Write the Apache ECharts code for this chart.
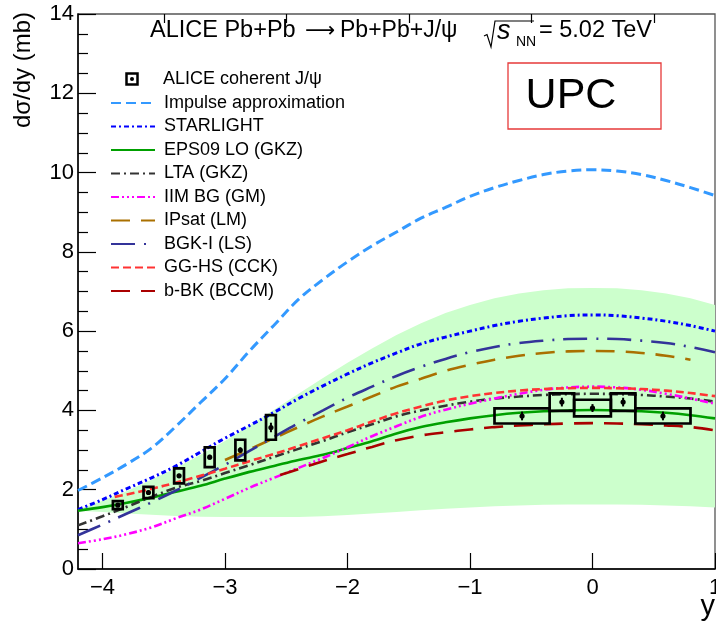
<!DOCTYPE html>
<html><head><meta charset="utf-8">
<script src="https://cdn.jsdelivr.net/npm/echarts@6/dist/echarts.min.js"></script>
<style>html,body{margin:0;padding:0;background:#fff}#c{width:716px;height:625px}</style>
</head><body><div id="c"></div>
<script>
// ---------- DATA ----------
const rapidity = [-4.2,-4.0,-3.8,-3.6,-3.4,-3.2,-3.0,-2.8,-2.6,-2.4,-2.2,-2.0,-1.8,-1.6,-1.4,-1.2,-1.0,-0.8,-0.6,-0.4,-0.2,0,0.2,0.4,0.6,0.8,1.0];
const impulseApprox = [1.98,2.3,2.65,3.05,3.6,4.2,4.8,5.5,6.15,6.8,7.3,7.75,8.15,8.5,8.85,9.12,9.4,9.62,9.8,9.95,10.04,10.07,10.04,9.95,9.8,9.62,9.42];
const starlight = [1.5,1.75,2.03,2.3,2.6,2.95,3.3,3.62,3.95,4.3,4.62,4.92,5.2,5.45,5.68,5.85,6.0,6.14,6.25,6.33,6.39,6.41,6.39,6.33,6.25,6.14,6.0];
const eps09 = [1.47,1.56,1.67,1.8,1.95,2.1,2.28,2.45,2.6,2.75,2.88,3.05,3.22,3.42,3.58,3.7,3.8,3.88,3.94,3.98,4.0,4.01,4.0,3.98,3.94,3.88,3.8];
const lta = [1.1,1.33,1.57,1.82,2.05,2.22,2.42,2.62,2.83,3.03,3.23,3.45,3.65,3.85,4.0,4.12,4.22,4.3,4.35,4.39,4.41,4.42,4.41,4.39,4.35,4.3,4.22];
const iimBG = [0.65,0.75,0.88,1.05,1.28,1.5,1.77,2.05,2.3,2.55,2.8,3.07,3.35,3.6,3.84,4.02,4.17,4.3,4.42,4.52,4.58,4.6,4.58,4.52,4.42,4.3,4.17];
const ipsat = [null,null,null,null,null,null,2.75,3.02,3.3,3.58,3.85,4.1,4.35,4.6,4.8,5.0,5.15,5.28,5.38,5.45,5.49,5.5,5.49,5.45,5.38,5.28,null];
const bgkI = [0.85,1.12,1.4,1.68,1.98,2.3,2.63,2.98,3.33,3.68,4.0,4.32,4.6,4.87,5.1,5.3,5.47,5.6,5.7,5.76,5.8,5.81,5.8,5.76,5.7,5.6,5.47];
const gghsX = [-3.9,-3.8,-3.6,-3.4,-3.2,-3.0,-2.8,-2.6,-2.4,-2.2,-2.0,-1.8,-1.6,-1.4,-1.2,-1.0,-0.8,-0.6,-0.4,-0.2,0,0.2,0.4,0.6,0.8,1.0];
const gghs = [1.82,1.88,2.02,2.18,2.35,2.53,2.72,2.9,3.1,3.3,3.5,3.72,3.93,4.1,4.25,4.36,4.44,4.5,4.54,4.56,4.57,4.56,4.54,4.5,4.44,4.36];
const bbkX = [-2.55,-2.4,-2.2,-2.0,-1.8,-1.6,-1.4,-1.2,-1.0,-0.8,-0.6,-0.4,-0.2,0,0.2,0.4,0.6,0.8,1.0];
const bbk = [2.37,2.52,2.72,2.9,3.08,3.25,3.37,3.45,3.52,3.58,3.62,3.65,3.67,3.68,3.67,3.65,3.62,3.58,3.5];
const bandUpper = [1.5,1.72,1.97,2.25,2.55,2.88,3.23,3.62,4.02,4.42,4.82,5.2,5.56,5.9,6.2,6.46,6.66,6.83,6.95,7.03,7.08,7.09,7.08,7.03,6.95,6.83,6.66];
const bandLower = [1.47,1.44,1.4,1.37,1.34,1.32,1.31,1.31,1.31,1.31,1.33,1.36,1.4,1.44,1.48,1.52,1.55,1.58,1.6,1.62,1.63,1.63,1.63,1.62,1.6,1.58,1.55];
const aliceX = [-3.875,-3.625,-3.375,-3.125,-2.875,-2.625,-0.575,-0.25,0,0.25,0.575];
const aliceXerr = [0.04,0.04,0.04,0.04,0.04,0.04,0.225,0.1,0.15,0.1,0.225];
const aliceY = [1.61,1.93,2.35,2.82,3.0,3.57,3.86,4.21,4.06,4.21,3.86];
const aliceSyst = [0.1,0.14,0.19,0.25,0.26,0.31,0.19,0.22,0.21,0.22,0.19];
const aliceStat = [0.04,0.05,0.05,0.06,0.07,0.12,0.11,0.11,0.1,0.11,0.11];
const xMajorTicks = [-4,-3,-2,-1,0,1];
const xMinorTicks = [-3.5,-2.5,-1.5,-0.5,0.5];
const seriesNames = ['Impulse approximation','STARLIGHT','EPS09 LO (GKZ)','LTA (GKZ)','IIM BG (GM)','IPsat (LM)','BGK-I (LS)','GG-HS (CCK)','b-BK (BCCM)'];

// ---------- CHART ----------
const FONT = '"Liberation Sans", Arial, Helvetica, sans-serif';
const chart = echarts.init(document.getElementById('c'), null, {renderer:'canvas'});
function pairs(xs, ys){ const out=[]; xs.forEach((x,i)=>{ if(ys[i]!==null) out.push([x, ys[i]]); }); return out; }
function lineSeries(name, xs, ys, color, width, dash, z){
  return {type:'line', name, data:pairs(xs,ys), showSymbol:false, symbol:'none', smooth:0.35, z:z||3,
    lineStyle:{color, width, type:dash, cap:'butt'}, itemStyle:{color}, emphasis:{disabled:true}, silent:true};
}
const txt = (o)=>({type:'text', silent:true, z:100, ...o});
const T = (text, x, y, font, align)=>txt({x, y, style:{text, font, fill:'#000', textAlign:align||'left', align:align||'left', textVerticalAlign:'middle', verticalAlign:'middle'}});

const option = {
  animation:false,
  grid:{left:78, right:1, top:14, bottom:56, show:true, borderColor:'#555', borderWidth:1.3, containLabel:false, outerBoundsMode:'none'},
  xAxis:[
    {type:'value', min:-4.2, max:1, axisLine:{show:true, onZero:false, lineStyle:{color:'#000', width:1.5}},
     axisTick:{show:true, inside:true, length:16, customValues:xMajorTicks, lineStyle:{color:'#000', width:1.2}},
     axisLabel:{customValues:xMajorTicks, fontSize:22, fontFamily:FONT, color:'#000', margin:8, hideOverlap:false,
       formatter:v=> v<0 ? '\u2212'+Math.abs(v) : String(v)},
     splitLine:{show:false}},
    {type:'value', min:-4.2, max:1, axisLine:{show:false, onZero:false},
     axisTick:{show:true, inside:true, length:9, customValues:xMinorTicks, lineStyle:{color:'#000', width:1.2}},
     axisLabel:{show:false}, splitLine:{show:false}}
  ],
  yAxis:{type:'value', min:0, max:14, interval:2,
    axisLine:{show:true, onZero:false, lineStyle:{color:'#000', width:1.5}},
    axisTick:{show:true, inside:true, length:18, lineStyle:{color:'#000', width:1.2}},
    minorTick:{show:true, splitNumber:4, length:10, lineStyle:{color:'#000', width:1.2}},
    axisLabel:{fontSize:22, fontFamily:FONT, color:'#000', margin:4},
    splitLine:{show:false}},
  legend:{orient:'vertical', left:110, top:94, padding:0, itemWidth:44, itemHeight:14, itemGap:5.5,
    selectedMode:false, data:seriesNames,
    itemStyle:{color:'rgba(0,0,0,0)', borderWidth:0, opacity:0},
    textStyle:{fontSize:18, fontFamily:FONT, color:'#000', padding:[0,0,0,4], lineHeight:18}},
  series:[
    {type:'custom', name:'band', silent:true, z:1, data:[[0,5]], encode:{x:0,y:1},
     renderItem:(params, api)=>{
       const pts=[];
       rapidity.forEach((x,i)=>pts.push(api.coord([x, bandUpper[i]])));
       for(let i=rapidity.length-1;i>=0;i--) pts.push(api.coord([rapidity[i], bandLower[i]]));
       return {type:'polygon', shape:{points:pts}, style:{fill:'#ccffcc', stroke:null}};
     }},
    lineSeries(seriesNames[0], rapidity, impulseApprox, '#3399ff', 3, [10,5]),
    lineSeries(seriesNames[1], rapidity, starlight, '#0000ff', 3, [5,3,2,3]),
    lineSeries(seriesNames[2], rapidity, eps09, '#00a000', 2.6, 'solid'),
    lineSeries(seriesNames[3], rapidity, lta, '#333333', 2.6, [9,4,2,4]),
    lineSeries(seriesNames[4], rapidity, iimBG, '#ff00ff', 2.6, [8,3,2,3,2,3,2,3]),
    lineSeries(seriesNames[5], rapidity, ipsat, '#aa7000', 2.6, [19,11]),
    lineSeries(seriesNames[6], rapidity, bgkI, '#333399', 2.6, [24,9,2,9]),
    lineSeries(seriesNames[7], gghsX, gghs, '#ff3333', 2.6, [8,4]),
    lineSeries(seriesNames[8], bbkX, bbk, '#aa0000', 2.6, [19,11]),
    {type:'custom', name:'ALICE coherent J/\u03c8', silent:true, z:10,
     data: aliceX.map((x,i)=>[x, aliceXerr[i], aliceY[i], aliceSyst[i], aliceStat[i]]),
     encode:{x:0, y:2},
     renderItem:(params, api)=>{
       const x=api.value(0), xe=api.value(1), y=api.value(2), sy=api.value(3), st=api.value(4);
       const p1=api.coord([x-xe, y+sy]), p2=api.coord([x+xe, y-sy]);
       const c=api.coord([x,y]), e1=api.coord([x,y+st]), e2=api.coord([x,y-st]);
       return {type:'group', children:[
         {type:'rect', shape:{x:p1[0], y:p1[1], width:p2[0]-p1[0], height:p2[1]-p1[1]}, style:{fill:'none', stroke:'#000', lineWidth:2.7}},
         {type:'line', shape:{x1:e1[0], y1:e1[1], x2:e2[0], y2:e2[1]}, style:{stroke:'#000', lineWidth:2}},
         {type:'circle', shape:{cx:c[0], cy:c[1], r:2.6}, style:{fill:'#000'}}
       ]};
     }}
  ],
  graphic:[
    // title
    T('ALICE Pb+Pb', 150, 31, '23.5px '+FONT),
    T('\u27f6', 320, 32, '21px "DejaVu Sans"', 'center'),
    T('Pb+Pb+J/\u03c8', 340, 31, '23px '+FONT),
    {type:'polyline', silent:true, z:100, shape:{points:[[484,36],[487,34.5],[491,47],[495,21],[534,21]]}, style:{stroke:'#000', lineWidth:1.2, fill:null}},
    T('s', 497, 31, 'italic 27px '+FONT),
    T('NN', 516, 42, '14px '+FONT),
    T('= 5.02 TeV', 539, 31, '23.5px '+FONT),
    // y-axis title
    txt({x:23, y:70, rotation:Math.PI/2, style:{text:'d\u03c3/dy (mb)', font:'24px '+FONT, fill:'#000', textAlign:'center', align:'center', textVerticalAlign:'middle', verticalAlign:'middle'}}),
    // x-axis title
    T('y', 715, 607, '29px '+FONT, 'right'),
    // UPC box
    {type:'rect', silent:true, z:100, shape:{x:508, y:63, width:153, height:66}, style:{fill:'none', stroke:'#e63a3a', lineWidth:1.3}},
    T('UPC', 571, 96, '43px '+FONT, 'center'),
    // ALICE legend entry
    {type:'rect', silent:true, z:100, shape:{x:126.5, y:73.5, width:11, height:11}, style:{fill:'none', stroke:'#000', lineWidth:2.5}},
    {type:'circle', silent:true, z:100, shape:{cx:132, cy:79, r:2}, style:{fill:'#000'}},
    T('ALICE coherent J/\u03c8', 163, 79, '18px '+FONT)
  ]
};
chart.setOption(option);
</script></body></html>
